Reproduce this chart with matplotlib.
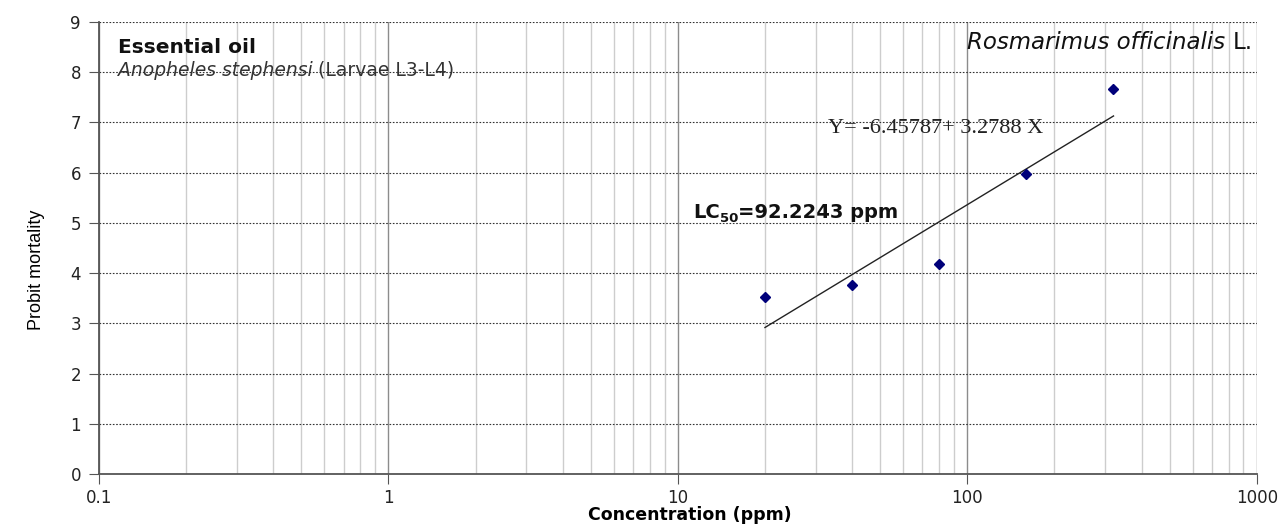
import numpy as np
import matplotlib.pyplot as plt
from matplotlib.ticker import LogLocator, NullFormatter, FixedLocator
from matplotlib.transforms import offset_copy

plt.rcParams["font.family"] = ["DejaVu Sans"]

# datos
conc_ppm = [20, 40, 80, 160, 320]
probit = [3.52, 3.76, 4.18, 5.98, 7.67]
ecuacion = "Y= -6.45787+ 3.2788 X"
x_ticks = [0.1, 1, 10, 100, 1000]
x_labels = ["0.1", "1", "10", "100", "1000"]
y_ticks = list(range(0, 10))

fig = plt.figure(figsize=(12.85, 5.31), dpi=100)
ax = fig.add_axes([0.077, 0.107, 0.901, 0.852])
renderer = fig.canvas.get_renderer()


def texto_mixto(x, y, partes, ha="left"):
    """Escribe trozos de texto con estilos distintos uno tras otro (misma línea base).
    Cada trozo puede llevar 'dy' (px) para subíndices."""
    medidas = []
    for s, props in partes:
        props = {k: v for k, v in props.items() if k != "dy"}
        t = ax.text(0, 0, s, **props)
        medidas.append(t.get_window_extent(renderer).width)
        t.remove()
    total = sum(medidas)
    dx = -total if ha == "right" else 0.0
    for (s, props), w in zip(partes, medidas):
        props = dict(props)
        dy = props.pop("dy", 0)
        tr = offset_copy(ax.transData, fig=fig, x=dx, y=dy, units="dots")
        ax.text(x, y, s, transform=tr, va="baseline", ha="left", **props)
        dx += w


ax.set_xscale("log")
ax.set_xlim(0.1, 1000)
ax.set_ylim(0, 9)

# rejilla: verticales grises (mayores más oscuras), horizontales punteadas
ax.xaxis.set_major_locator(FixedLocator(x_ticks))
ax.xaxis.set_minor_locator(LogLocator(base=10, subs=np.arange(2, 10)))
ax.xaxis.set_minor_formatter(NullFormatter())
ax.set_xticklabels(x_labels)
ax.set_yticks(y_ticks)
ax.grid(which="major", axis="x", color="#8c8c8c", lw=1.0)
ax.grid(which="minor", axis="x", color="#cdcdcd", lw=1.0)
ax.grid(which="major", axis="y", color="#333333", lw=0.8, ls=(0, (1.5, 1.5)))
ax.set_axisbelow(True)

for s in ("top", "right"):
    ax.spines[s].set_visible(False)
for s in ("left", "bottom"):
    ax.spines[s].set_color("#555555")
    ax.spines[s].set_linewidth(1.3)
ax.tick_params(which="major", length=7, color="#555555", labelsize=12,
               labelcolor="#222222")
ax.tick_params(which="minor", length=0)
ax.tick_params(axis="x", pad=4)
ax.tick_params(axis="y", pad=6)

# recta de regresión probit vs log10(conc)
lx = np.log10(conc_ppm)
b, a = np.polyfit(lx, probit, 1)
xs = np.array([min(conc_ppm), max(conc_ppm)])
ax.plot(xs, a + b * np.log10(xs), color="#222222", lw=1.0, zorder=3)

ax.plot(conc_ppm, probit, ls="none", marker="D", ms=5,
        color="#00007a", zorder=4)

ax.text(0.116, 8.37, "Essential oil", fontsize=14.5, fontweight="bold",
        color="#111111", va="baseline")
texto_mixto(0.116, 7.93, [
    ("Anopheles stephensi ", dict(fontsize=13.5, style="italic", color="#333333")),
    ("(Larvae L3-L4)", dict(fontsize=13.5, color="#333333")),
])
texto_mixto(968, 8.45, [
    ("Rosmarimus officinalis ", dict(fontsize=16.5, style="italic", color="#111111")),
    ("L.", dict(fontsize=16.5, color="#111111")),
], ha="right")
ax.text(32.9, 6.87, ecuacion, fontsize=16, family="Liberation Serif",
        color="#222222", va="center")
texto_mixto(11.3, 5.10, [
    ("LC", dict(fontsize=14, fontweight="bold", color="#111111")),
    ("50", dict(fontsize=9.5, fontweight="bold", color="#111111", dy=-4)),
    ("=92.2243 ppm", dict(fontsize=14, fontweight="bold", color="#111111")),
])

ax.set_xlabel("Concentration (ppm)", fontsize=12.5, fontweight="bold")
ax.xaxis.label.set_va("center")
ax.xaxis.set_label_coords(0.51, -0.091)
ax.set_ylabel("Probit mortality", fontsize=13, family="Liberation Sans")
ax.yaxis.set_label_coords(-0.047, 0.451)

fig.savefig("out.png", dpi=100)
